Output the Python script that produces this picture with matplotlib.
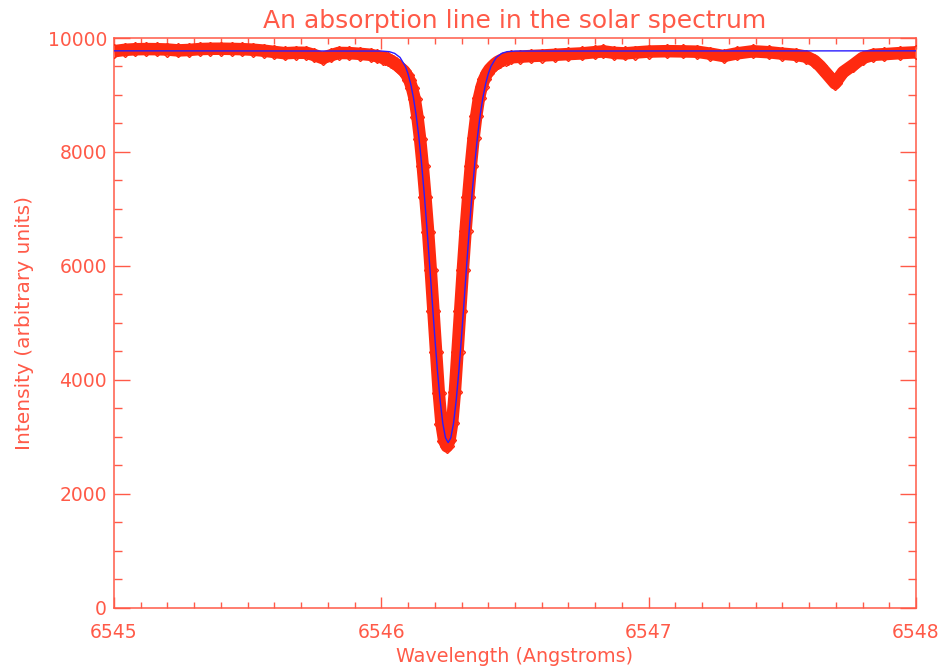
import numpy as np
import matplotlib
matplotlib.use('Agg')
import matplotlib.pyplot as plt
from matplotlib.ticker import MultipleLocator

AXIS_RED = '#ff5a48'
DATA_RED = '#ff2a10'
FIT_BLUE = '#2a1cff'

obs_wave = [
    6545.00, 6545.04, 6545.08, 6545.12, 6545.16, 6545.20, 6545.24, 6545.28,
    6545.32, 6545.36, 6545.40, 6545.44, 6545.48, 6545.52, 6545.56, 6545.60,
    6545.64, 6545.68, 6545.72, 6545.75, 6545.78, 6545.81, 6545.84, 6545.88,
    6545.92, 6545.96, 6545.985,
    6546.005, 6546.015, 6546.025, 6546.035, 6546.045, 6546.055, 6546.065,
    6546.075, 6546.085, 6546.095, 6546.105, 6546.115, 6546.125, 6546.135,
    6546.145, 6546.155, 6546.165, 6546.175, 6546.185, 6546.195, 6546.205,
    6546.215, 6546.225, 6546.235, 6546.245, 6546.255, 6546.265, 6546.275,
    6546.285, 6546.295, 6546.305, 6546.315, 6546.325, 6546.335, 6546.345,
    6546.355, 6546.365, 6546.375, 6546.385, 6546.395, 6546.405, 6546.415,
    6546.425, 6546.435, 6546.445, 6546.455, 6546.465, 6546.475, 6546.485,
    6546.52, 6546.56, 6546.60, 6546.65, 6546.70, 6546.75, 6546.80, 6546.83,
    6546.87, 6546.91, 6546.95, 6547.00, 6547.07, 6547.13, 6547.18, 6547.23,
    6547.28, 6547.33, 6547.39, 6547.45, 6547.50, 6547.55, 6547.59, 6547.62,
    6547.641, 6547.667, 6547.697, 6547.727, 6547.765, 6547.80, 6547.84,
    6547.88, 6547.94, 6548.00,
]
obs_flux = [
    9768, 9792, 9803, 9806, 9804, 9798, 9782, 9790,
    9806, 9811, 9812, 9809, 9804, 9795, 9778, 9755,
    9733, 9742, 9740, 9700, 9648, 9695, 9738, 9735,
    9722, 9705, 9680,
    9655, 9645, 9625, 9600, 9575, 9540, 9500,
    9460, 9420, 9350, 9260, 9120, 8930, 8620,
    8230, 7750, 7200, 6600, 5920, 5200, 4480,
    3770, 3230, 2930, 2830, 2935, 3240, 3780,
    4490, 5210, 5930, 6610, 7210, 7760, 8240,
    8630, 8940, 9140, 9280, 9380, 9450, 9500,
    9545, 9580, 9605, 9625, 9640, 9652, 9660,
    9672, 9684, 9692, 9705, 9718, 9730, 9752, 9766,
    9740, 9730, 9745, 9762, 9769, 9765, 9760, 9725,
    9684, 9730, 9767, 9750, 9725, 9705, 9672, 9600,
    9508, 9368, 9204, 9400, 9526, 9650, 9705,
    9716, 9735, 9749,
]

# fitted profile (blue curve)
fit_wave = [
    6545.00, 6546.00, 6546.03, 6546.05, 6546.07, 6546.09, 6546.10, 6546.11,
    6546.12, 6546.13, 6546.14, 6546.15, 6546.16, 6546.17, 6546.18, 6546.19,
    6546.20, 6546.21, 6546.22, 6546.23, 6546.24, 6546.25, 6546.26, 6546.27,
    6546.28, 6546.29, 6546.30, 6546.31, 6546.32, 6546.33, 6546.34, 6546.35,
    6546.36, 6546.37, 6546.38, 6546.39, 6546.40, 6546.41, 6546.43, 6546.45,
    6546.47, 6546.50, 6548.00,
]
fit_flux = [
    9775, 9771, 9760, 9730, 9659, 9502, 9370, 9192,
    8956, 8654, 8277, 7823, 7295, 6702, 6064, 5403,
    4754, 4151, 3633, 3233, 2981, 2895, 2981, 3233,
    3633, 4151, 4754, 5403, 6064, 6702, 7295, 7823,
    8277, 8654, 8956, 9192, 9370, 9502, 9659, 9730,
    9760, 9771, 9775,
]

plt.rcParams['font.family'] = ['DejaVu Sans']

fig = plt.figure(figsize=(9.42, 6.67), dpi=100)
ax = fig.add_axes([0.121, 0.0892, 0.8514, 0.8538])

ax.plot(obs_wave, obs_flux, color=DATA_RED, lw=9.0, solid_capstyle='butt',
        solid_joinstyle='round', zorder=2)
ax.plot(obs_wave, obs_flux, ls='none', marker='D', ms=6.8, mfc='none',
        mec=DATA_RED, mew=1.0, zorder=3)
ax.plot(fit_wave, fit_flux, color=FIT_BLUE, lw=1.0, zorder=4)

ax.set_xlim(6545, 6548)
ax.set_ylim(0, 10000)
ax.xaxis.set_major_locator(MultipleLocator(1))
ax.xaxis.set_minor_locator(MultipleLocator(0.1))
ax.yaxis.set_major_locator(MultipleLocator(2000))
ax.yaxis.set_minor_locator(MultipleLocator(500))
ax.xaxis.set_major_formatter(plt.FuncFormatter(lambda v, p: '%d' % round(v)))

for s in ax.spines.values():
    s.set_color(AXIS_RED)
    s.set_linewidth(1.1)

ax.tick_params(axis='both', which='both', direction='in', top=True, right=True,
               colors=AXIS_RED, labelcolor=AXIS_RED, labelsize=13.5, width=1.0)
ax.tick_params(axis='x', which='major', length=8, pad=11)
ax.tick_params(axis='x', which='minor', length=4)
ax.tick_params(axis='y', which='major', length=11.5, pad=5)
ax.tick_params(axis='y', which='minor', length=5.8)

ax.set_title('An absorption line in the solar spectrum', color=AXIS_RED,
             fontsize=18, pad=7)
ax.set_xlabel('Wavelength (Angstroms)', color=AXIS_RED, fontsize=13.8, labelpad=4)
ax.set_ylabel('Intensity (arbitrary units)', color=AXIS_RED, fontsize=14.5, labelpad=10)

fig.savefig('out.png', dpi=100)
